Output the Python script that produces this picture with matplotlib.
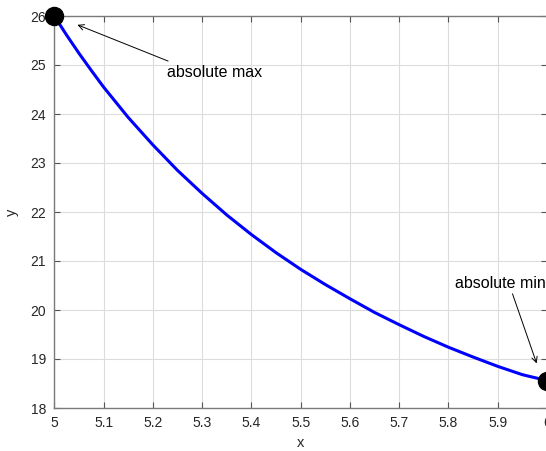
import matplotlib
matplotlib.use("Agg")
import matplotlib.pyplot as plt

# values
x_vals = [5.00, 5.025, 5.05, 5.075, 5.10, 5.15, 5.20, 5.25, 5.30, 5.35, 5.40, 5.45, 5.50,
          5.55, 5.60, 5.65, 5.70, 5.75, 5.80, 5.85, 5.90, 5.95, 6.00]
y_vals = [26.00, 25.61, 25.24, 24.89, 24.55, 23.93, 23.37, 22.85, 22.38, 21.94, 21.54, 21.17, 20.83,
          20.52, 20.23, 19.95, 19.70, 19.46, 19.24, 19.04, 18.85, 18.68, 18.56]
max_pt = (5.00, 26.00)
min_pt = (6.00, 18.56)
x_ticks = [5, 5.1, 5.2, 5.3, 5.4, 5.5, 5.6, 5.7, 5.8, 5.9, 6]
x_ticklabels = ["5", "5.1", "5.2", "5.3", "5.4", "5.5", "5.6", "5.7", "5.8", "5.9", "6"]
y_ticks = [18, 19, 20, 21, 22, 23, 24, 25, 26]

plt.rcParams['font.family'] = ['Liberation Sans', 'DejaVu Sans']

fig = plt.figure(figsize=(5.46, 4.51), dpi=100)
ax = fig.add_axes([54.3 / 546, 1 - 408 / 451, (547 - 54.3) / 546, (408 - 16) / 451])

ax.plot(x_vals, y_vals, color='#0000ff', lw=2.2, zorder=3, clip_on=False,
        solid_joinstyle='round')
ax.plot([max_pt[0], min_pt[0]], [max_pt[1], min_pt[1]], 'o', color='black',
        ms=13, zorder=4, clip_on=False, linestyle='none')

ax.set_xlim(5, 6)
ax.set_ylim(18, 26)
ax.set_xticks(x_ticks)
ax.set_xticklabels(x_ticklabels)
ax.set_yticks(y_ticks)

ax.grid(True, color='#dcdcdc', lw=0.8)
ax.set_axisbelow(True)
for s in ax.spines.values():
    s.set_color('#7a7a7a')
    s.set_linewidth(1.0)
ax.tick_params(direction='in', length=4, width=0.8, color='#555555',
               labelcolor='#262626', labelsize=10, top=True, right=True, pad=6)
ax.set_xlabel('x', fontsize=10.5, color='#262626', labelpad=4)
ax.set_ylabel('y', fontsize=10.5, color='#262626', labelpad=8)

ax.annotate('', xy=(5.047, 25.82), xytext=(5.231, 25.08),
            arrowprops=dict(arrowstyle='->', color='black', lw=0.7,
                            shrinkA=0, shrinkB=0, mutation_scale=10))
ax.text(5.229, 24.76, 'absolute max', fontsize=11.5, va='baseline', ha='left', color='black')

ax.annotate('', xy=(5.979, 18.91), xytext=(5.930, 20.33),
            arrowprops=dict(arrowstyle='->', color='black', lw=0.7,
                            shrinkA=0, shrinkB=0, mutation_scale=10))
ax.text(5.813, 20.44, 'absolute min', fontsize=11.5, va='baseline', ha='left', color='black',
        clip_on=False)

fig.savefig('out.png', dpi=100)
